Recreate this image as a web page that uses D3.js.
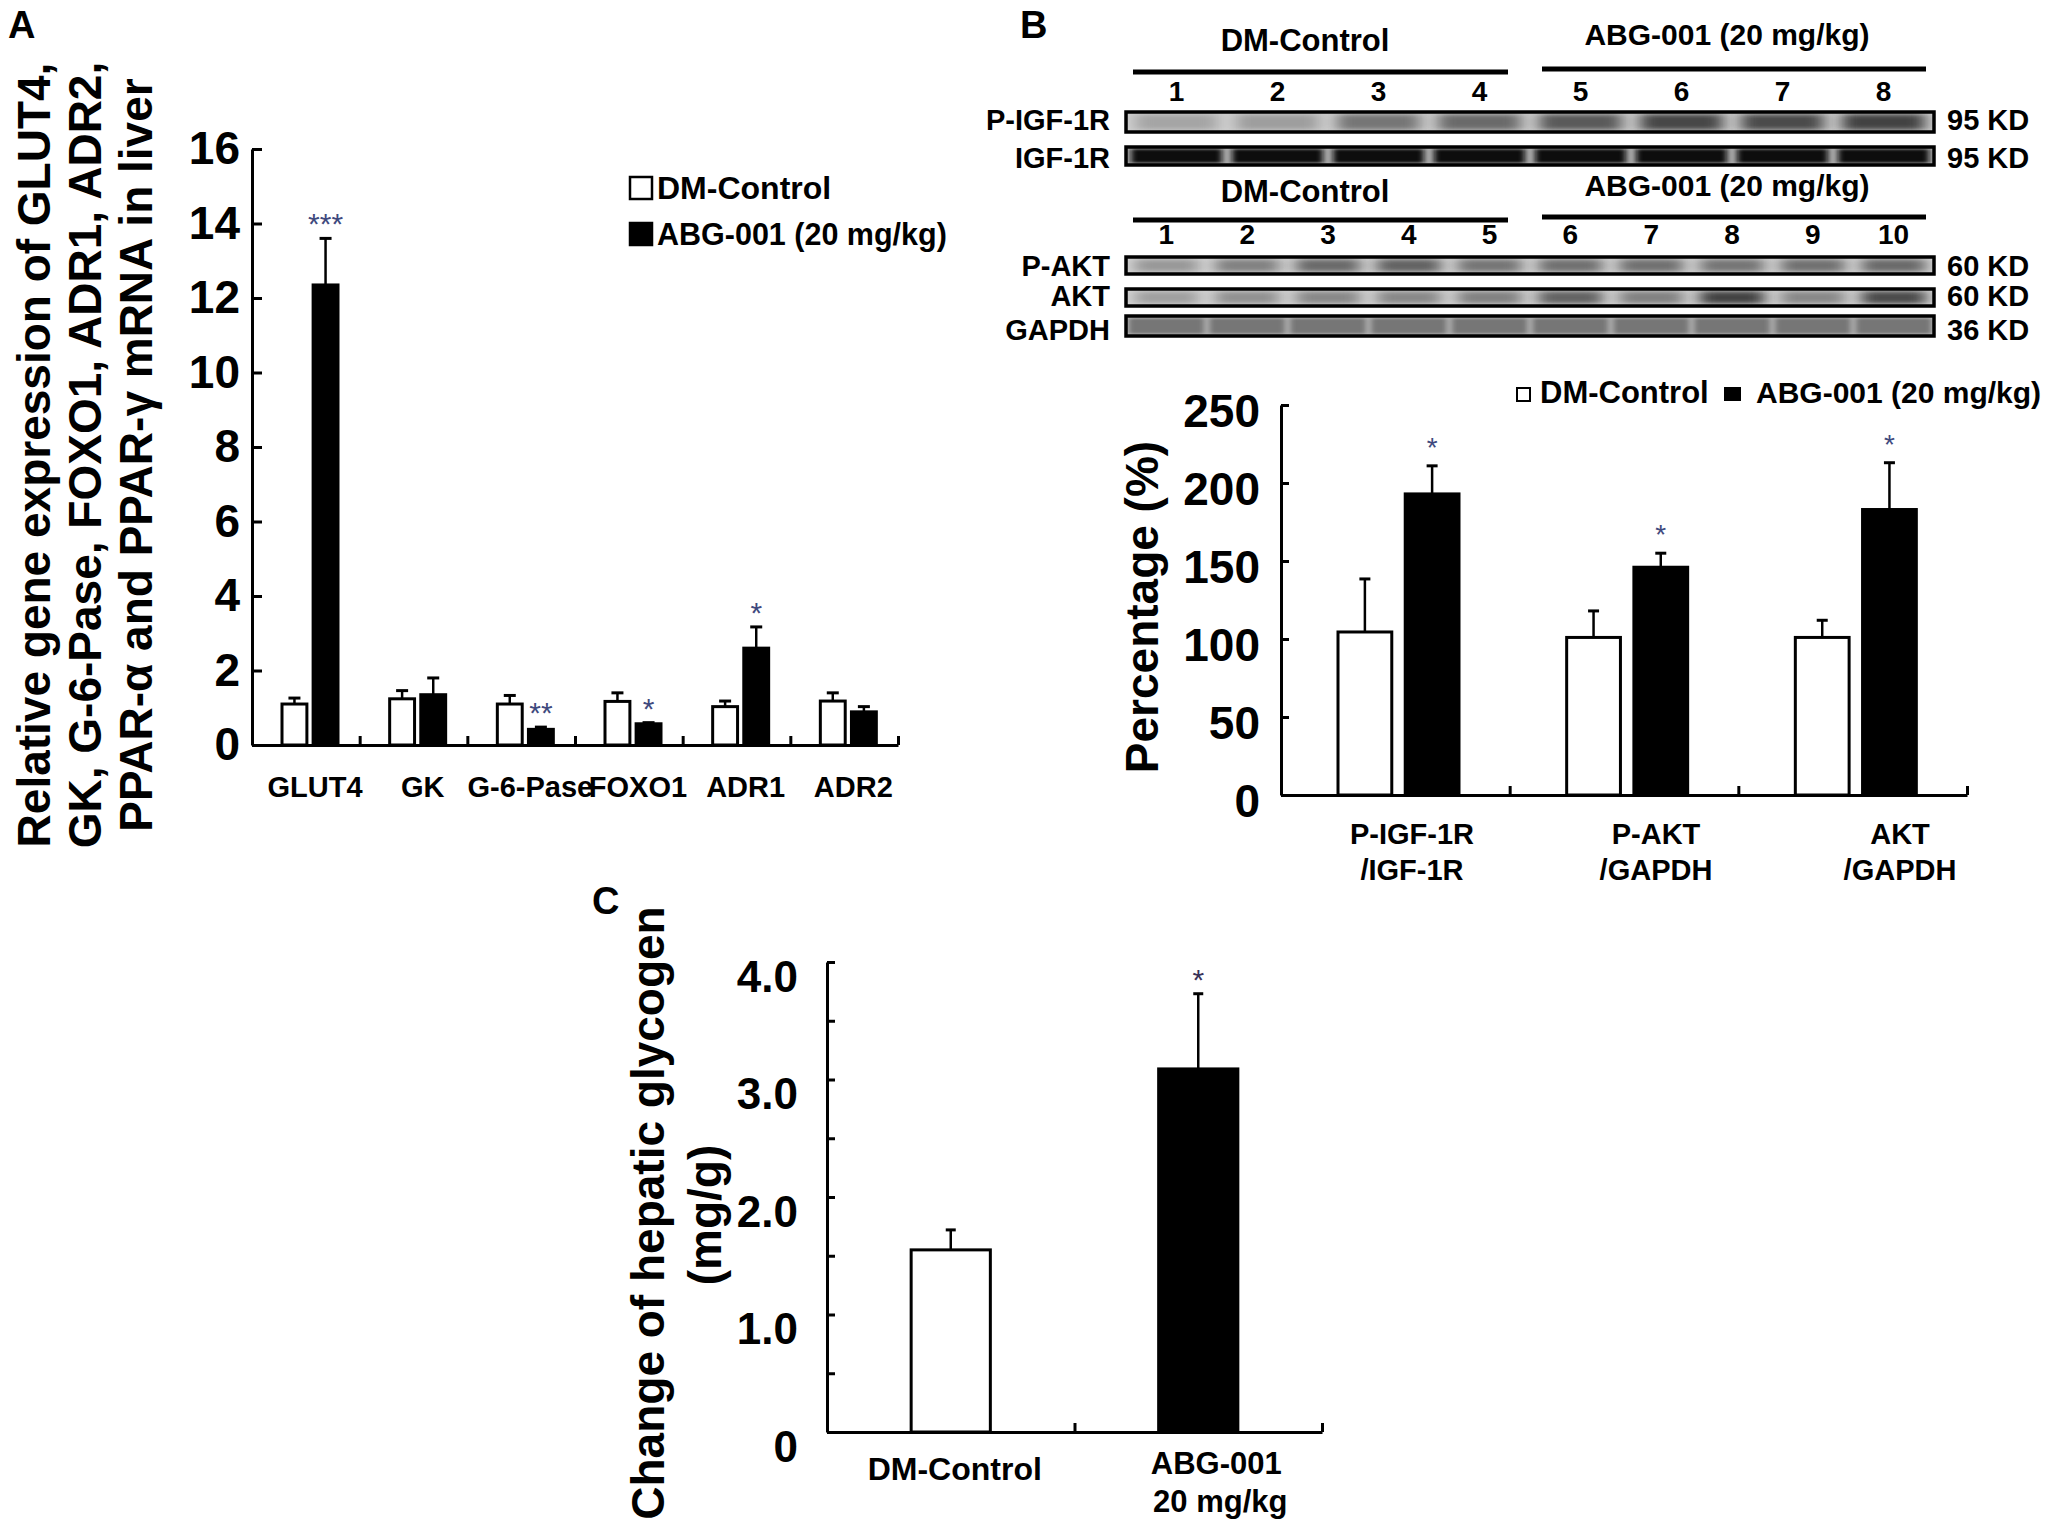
<!DOCTYPE html>
<html>
<head>
<meta charset="utf-8">
<title>ABG-001 liver figure</title>
<script src="https://cdn.jsdelivr.net/npm/d3@7/dist/d3.min.js"></script>
<style>
  body { margin: 0; background: #fff; }
  text { font-family: "Liberation Sans", Arial, sans-serif; font-weight: bold; fill: #000; }
  .axis path, .axis line { stroke: #000; stroke-width: 3; }
  .axis text { font-family: "Liberation Sans", Arial, sans-serif; font-weight: bold; }
</style>
</head>
<body>
<div id="chart"></div>
<script>
// Panel A - relative mRNA expression in liver
const genes = ["GLUT4", "GK", "G-6-Pase", "FOXO1", "ADR1", "ADR2"];
const controlA = [1.10, 1.24, 1.10, 1.17, 1.03, 1.18];
const controlErrA = [0.16, 0.22, 0.23, 0.23, 0.15, 0.22];
const abgA = [12.35, 1.35, 0.42, 0.57, 2.60, 0.89];
const abgErrA = [1.25, 0.45, 0.06, 0.03, 0.57, 0.14];
const sigA = ["***", "", "**", "*", "*", ""];
const yTicksA = [0, 2, 4, 6, 8, 10, 12, 14, 16];

// Panel B - blot quantification
const ratioTop = ["P-IGF-1R", "P-AKT", "AKT"];
const ratioBottom = ["/IGF-1R", "/GAPDH", "/GAPDH"];
const controlB = [104.5, 101, 101];
const controlErrB = [34, 17, 11];
const abgB = [193, 146, 183];
const abgErrB = [18, 9, 30];
const sigB = ["*", "*", "*"];
const yTicksB = [0, 50, 100, 150, 200, 250];

// Panel B - blot lanes and band darkness (0 blank .. 1 black)
const lanesIgf = ["1", "2", "3", "4", "5", "6", "7", "8"];
const lanesAkt = ["1", "2", "3", "4", "5", "6", "7", "8", "9", "10"];
const bandsPIgf = [0.30, 0.33, 0.50, 0.55, 0.62, 0.70, 0.68, 0.72];
const bandsIgf = [0.96, 0.96, 0.96, 0.97, 0.97, 0.97, 0.97, 0.96];
const bandsPAkt = [0.35, 0.45, 0.55, 0.58, 0.50, 0.52, 0.52, 0.50, 0.52, 0.55];
const bandsAkt = [0.32, 0.38, 0.42, 0.42, 0.45, 0.58, 0.45, 0.72, 0.42, 0.68];
const bandsGapdh = [0.50, 0.50, 0.50, 0.50, 0.50, 0.50, 0.50, 0.50, 0.50, 0.50];

// Panel C - hepatic glycogen
const groupsC = ["DM-Control", "ABG-001"];
const groupsC2 = ["", "20 mg/kg"];
const glycogen = [1.55, 3.09];
const glycogenErr = [0.17, 0.64];
const sigC = ["", "*"];
const yTicksC = [0, 0.5, 1, 1.5, 2, 2.5, 3, 3.5, 4];
const yLabelsC = ["0", "", "1.0", "", "2.0", "", "3.0", "", "4.0"];

const series = ["DM-Control", "ABG-001 (20 mg/kg)"];
const starColor = "#3f4a7e";

const svg = d3.select("#chart").append("svg")
    .attr("width", 2070)
    .attr("height", 1537);

// vertical error bar with a cap
function errBar(g, x, yBase, yTop, cap) {
    g.append("line")
        .attr("x1", x).attr("x2", x).attr("y1", yBase).attr("y2", yTop)
        .attr("stroke", "#000").attr("stroke-width", 2.5);
    g.append("line")
        .attr("x1", x - cap / 2).attr("x2", x + cap / 2).attr("y1", yTop).attr("y2", yTop)
        .attr("stroke", "#000").attr("stroke-width", 3);
}

// x axis line with little upward ticks between the groups
function groupAxis(g, n, x0, x1, y) {
    const s = d3.scaleLinear().domain([0, n]).range([x0, x1]);
    g.append("g").attr("class", "axis")
        .attr("transform", `translate(0,${y})`)
        .call(d3.axisBottom(s).tickValues(d3.range(1, n + 1))
            .tickSizeInner(-9).tickSizeOuter(0).tickFormat(() => ""));
}

function rotatedText(g, x, y, txt, size) {
    g.append("text")
        .attr("transform", `translate(${x},${y}) rotate(-90)`)
        .attr("text-anchor", "middle")
        .style("font-size", size + "px")
        .text(txt);
}

function panelLetter(x, y, t) {
    svg.append("text").attr("x", x).attr("y", y)
        .style("font-size", "38px").text(t);
}

// ===================== Panel A =====================
const gA = svg.append("g");
const yA = d3.scaleLinear().domain([0, 16]).range([745, 149]);
const xA = d3.scaleBand().domain(genes).range([252, 898]);
const xA1 = d3.scaleBand().domain(series).range([30, 86]).paddingInner(0.2);

panelLetter(8, 38, "A");

const axA = gA.append("g").attr("class", "axis")
    .attr("transform", "translate(252,0)")
    .call(d3.axisLeft(yA).tickValues(yTicksA).tickSizeInner(-10).tickSizeOuter(0).tickPadding(12));
axA.selectAll("text").style("font-size", "46px");
groupAxis(gA, genes.length, 252, 898, 745);

const rowsA = genes.map((g, i) => ({
    gene: g,
    vals: [{s: series[0], v: controlA[i], e: controlErrA[i]}, {s: series[1], v: abgA[i], e: abgErrA[i]}],
    sig: sigA[i]
}));

rowsA.forEach(r => {
    r.vals.forEach((d, j) => {
        const x = xA(r.gene) + xA1(d.s);
        const w = xA1.bandwidth();
        errBar(gA, x + w / 2, yA(d.v), yA(d.v + d.e), 12);
        gA.append("rect")
            .attr("x", x).attr("y", yA(d.v))
            .attr("width", w).attr("height", yA(0) - yA(d.v))
            .attr("fill", j === 0 ? "#fff" : "#000")
            .attr("stroke", "#000").attr("stroke-width", 3);
    });
    if (r.sig) {
        const d = r.vals[1];
        gA.append("text")
            .attr("x", xA(r.gene) + xA1(d.s) + xA1.bandwidth() / 2)
            .attr("y", yA(d.v + d.e) - 4)
            .attr("text-anchor", "middle")
            .style("font-size", "30px").style("font-weight", "normal")
            .style("fill", starColor)
            .text(r.sig);
    }
});

gA.selectAll(".xlab")
    .data(genes)
    .enter().append("text")
        .attr("x", d => xA(d) + 63)
        .attr("y", 797)
        .attr("text-anchor", "middle")
        .style("font-size", "29px")
        .text(d => d);

// legend A
series.forEach((s, i) => {
    gA.append("rect")
        .attr("x", 630).attr("y", 177 + i * 46).attr("width", 22).attr("height", 22)
        .attr("fill", i === 0 ? "#fff" : "#000")
        .attr("stroke", "#000").attr("stroke-width", 2.5);
    gA.append("text")
        .attr("x", 657).attr("y", 199 + i * 46)
        .style("font-size", i === 0 ? "32px" : "30.5px")
        .text(s);
});

["Relative gene expression of GLUT4,",
 "GK, G-6-Pase, FOXO1, ADR1, ADR2,",
 "PPAR-\u03b1 and PPAR-\u03b3 mRNA in liver"].forEach((t, i) => {
    rotatedText(gA, 50 + i * 51, 455, t, 46);
});

// ===================== Panel B (blots) =====================
const gB = svg.append("g");
panelLetter(1020, 38, "B");

const defs = svg.append("defs");
defs.append("filter").attr("id", "soft")
    .attr("x", "-30%").attr("y", "-60%").attr("width", "160%").attr("height", "220%")
    .append("feGaussianBlur").attr("stdDeviation", "8 2.5");
defs.append("filter").attr("id", "softer")
    .attr("x", "-30%").attr("y", "-60%").attr("width", "160%").attr("height", "220%")
    .append("feGaussianBlur").attr("stdDeviation", "3 1.5");

const stripX0 = 1126, stripX1 = 1934;
const laneIgf = d3.scaleBand().domain(lanesIgf).range([stripX0, stripX1]);
const laneAkt = d3.scaleBand().domain(lanesAkt).range([stripX0, stripX1]);
const bandShade = d3.interpolateRgb("#ececec", "#000");

const strips = [
    {name: "P-IGF-1R", kd: "95 KD", lane: laneIgf, bands: bandsPIgf, top: 112, h: 20, base: 130, bg: "#d2d2d2", frac: 0.82, f: "soft"},
    {name: "IGF-1R", kd: "95 KD", lane: laneIgf, bands: bandsIgf, top: 147, h: 18, base: 168, bg: "#b4b4b4", frac: 0.9, f: "softer"},
    {name: "P-AKT", kd: "60 KD", lane: laneAkt, bands: bandsPAkt, top: 257, h: 17, base: 276, bg: "#d8d8d8", frac: 0.8, f: "soft"},
    {name: "AKT", kd: "60 KD", lane: laneAkt, bands: bandsAkt, top: 289, h: 17, base: 306, bg: "#d8d8d8", frac: 0.8, f: "soft"},
    {name: "GAPDH", kd: "36 KD", lane: laneAkt, bands: bandsGapdh, top: 316, h: 20, base: 340, bg: "#c4c4c4", frac: 0.95, f: "softer"}
];

strips.forEach((st, k) => {
    defs.append("clipPath").attr("id", "clip" + k)
        .append("rect").attr("x", stripX0).attr("y", st.top)
        .attr("width", stripX1 - stripX0).attr("height", st.h);
    const sg = gB.append("g").attr("clip-path", `url(#clip${k})`);
    sg.append("rect").attr("x", stripX0).attr("y", st.top)
        .attr("width", stripX1 - stripX0).attr("height", st.h).attr("fill", st.bg);
    const dom = st.lane.domain();
    sg.selectAll("rect.band")
        .data(st.bands)
        .enter().append("rect")
            .attr("class", "band")
            .attr("x", (d, i) => st.lane(dom[i]) + st.lane.bandwidth() * (1 - st.frac) / 2)
            .attr("y", st.top + 2)
            .attr("width", st.lane.bandwidth() * st.frac)
            .attr("height", st.h - 4)
            .attr("fill", d => bandShade(d))
            .attr("filter", `url(#${st.f})`);
    gB.append("rect").attr("x", stripX0).attr("y", st.top)
        .attr("width", stripX1 - stripX0).attr("height", st.h)
        .attr("fill", "none").attr("stroke", "#000").attr("stroke-width", 3.5);
    gB.append("text").attr("x", 1110).attr("y", st.base)
        .attr("text-anchor", "end").style("font-size", "29px").text(st.name);
    gB.append("text").attr("x", 1947).attr("y", st.base)
        .style("font-size", "29px").text(st.kd);
});

// group headers and lane numbers above each blot set
[{y: 51, line: 72, nums: 101, lane: laneIgf, lanes: lanesIgf},
 {y: 202, line: 220, nums: 244, lane: laneAkt, lanes: lanesAkt}].forEach(h => {
    gB.append("text").attr("x", 1305).attr("y", h.y).attr("text-anchor", "middle")
        .style("font-size", "31px").text(series[0]);
    gB.append("text").attr("x", 1727).attr("y", h.y - 6).attr("text-anchor", "middle")
        .style("font-size", "30px").text(series[1]);
    gB.append("line").attr("x1", 1133).attr("x2", 1508).attr("y1", h.line).attr("y2", h.line)
        .attr("stroke", "#000").attr("stroke-width", 5);
    gB.append("line").attr("x1", 1542).attr("x2", 1926).attr("y1", h.line - 3).attr("y2", h.line - 3)
        .attr("stroke", "#000").attr("stroke-width", 5);
    gB.selectAll(null)
        .data(h.lanes)
        .enter().append("text")
            .attr("x", d => h.lane(d) + h.lane.bandwidth() / 2)
            .attr("y", h.nums)
            .attr("text-anchor", "middle")
            .style("font-size", "28px")
            .text(d => d);
});

// ===================== Panel B (bar chart) =====================
const yB = d3.scaleLinear().domain([0, 250]).range([795, 405]);
const xB = d3.scaleBand().domain(ratioTop).range([1281, 1967]);
const xB1 = d3.scaleBand().domain(series).range([57, 178]).paddingInner(0.2);
const xBLabel = d3.scalePoint().domain(ratioTop).range([1412, 1900]);

const axB = gB.append("g").attr("class", "axis")
    .attr("transform", "translate(1281,0)")
    .call(d3.axisLeft(yB).tickValues(yTicksB).tickSizeInner(-8).tickSizeOuter(0).tickPadding(21));
axB.selectAll("text").style("font-size", "46px").attr("transform", "translate(0,7)");
groupAxis(gB, ratioTop.length, 1281, 1967, 795);

ratioTop.forEach((r, i) => {
    const vals = [{s: series[0], v: controlB[i], e: controlErrB[i]}, {s: series[1], v: abgB[i], e: abgErrB[i]}];
    vals.forEach((d, j) => {
        const x = xB(r) + xB1(d.s);
        const w = xB1.bandwidth();
        errBar(gB, x + w / 2, yB(d.v), yB(d.v + d.e), 11);
        gB.append("rect")
            .attr("x", x).attr("y", yB(d.v))
            .attr("width", w).attr("height", yB(0) - yB(d.v))
            .attr("fill", j === 0 ? "#fff" : "#000")
            .attr("stroke", "#000").attr("stroke-width", 3);
    });
    gB.append("text")
        .attr("x", xB(r) + xB1(series[1]) + xB1.bandwidth() / 2)
        .attr("y", yB(abgB[i] + abgErrB[i]) - 9)
        .attr("text-anchor", "middle")
        .style("font-size", "28px").style("font-weight", "normal")
        .style("fill", starColor)
        .text(sigB[i]);
    gB.append("text").attr("x", xBLabel(r)).attr("y", 844)
        .attr("text-anchor", "middle").style("font-size", "29px").text(r);
    gB.append("text").attr("x", xBLabel(r)).attr("y", 880)
        .attr("text-anchor", "middle").style("font-size", "29px").text(ratioBottom[i]);
});

// legend B
gB.append("rect").attr("x", 1517).attr("y", 388).attr("width", 13).attr("height", 13)
    .attr("fill", "#fff").attr("stroke", "#000").attr("stroke-width", 2);
gB.append("text").attr("x", 1540).attr("y", 403).style("font-size", "31px").text(series[0]);
gB.append("rect").attr("x", 1724).attr("y", 387).attr("width", 17).attr("height", 14).attr("fill", "#000");
gB.append("text").attr("x", 1756).attr("y", 403).style("font-size", "30px").text(series[1]);

rotatedText(gB, 1158, 607, "Percentage (%)", 46);

// ===================== Panel C =====================
const gC = svg.append("g");
panelLetter(592, 914, "C");

const yC = d3.scaleLinear().domain([0, 4]).range([1432, 962]);
const xC = d3.scaleBand().domain(groupsC).range([827, 1322]);

const axC = gC.append("g").attr("class", "axis")
    .attr("transform", "translate(827,0)")
    .call(d3.axisLeft(yC).tickValues(yTicksC).tickSizeInner(-8).tickSizeOuter(0).tickPadding(29)
        .tickFormat((d, i) => yLabelsC[i]));
axC.selectAll("text").style("font-size", "44px").attr("transform", "translate(0,15)");
groupAxis(gC, groupsC.length, 827, 1322, 1432);

groupsC.forEach((g, i) => {
    const w = xC.bandwidth() * 0.32;
    const x = xC(g) + (xC.bandwidth() - w) / 2;
    errBar(gC, x + w / 2, yC(glycogen[i]), yC(glycogen[i] + glycogenErr[i]), 10);
    gC.append("rect")
        .attr("x", x).attr("y", yC(glycogen[i]))
        .attr("width", w).attr("height", yC(0) - yC(glycogen[i]))
        .attr("fill", i === 0 ? "#fff" : "#000")
        .attr("stroke", "#000").attr("stroke-width", 3);
    if (sigC[i]) {
        gC.append("text").attr("x", x + w / 2)
            .attr("y", yC(glycogen[i] + glycogenErr[i]) - 4)
            .attr("text-anchor", "middle")
            .style("font-size", "30px").style("font-weight", "normal")
            .style("fill", "#3a3358")
            .text(sigC[i]);
    }
    gC.append("text").attr("x", xC(g) + xC.bandwidth() / 2 + 14 * i + 4).attr("y", i === 0 ? 1480 : 1474)
        .attr("text-anchor", "middle").style("font-size", i === 0 ? "32px" : "31px").text(g);
    if (groupsC2[i]) {
        gC.append("text").attr("x", xC(g) + xC.bandwidth() / 2 + 22).attr("y", 1512)
            .attr("text-anchor", "middle").style("font-size", "31px").text(groupsC2[i]);
    }
});

rotatedText(gC, 664, 1213, "Change of hepatic glycogen", 46);
rotatedText(gC, 721, 1215, "(mg/g)", 46);
</script>
</body>
</html>
